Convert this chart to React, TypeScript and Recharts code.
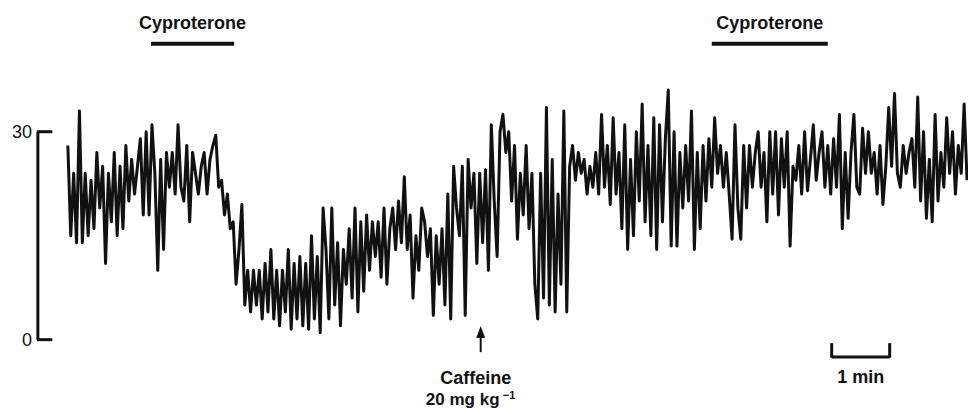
import { LineChart, Line, XAxis, YAxis, ReferenceLine, ReferenceDot } from 'recharts';

const sampleInterval = 3;
const traceValues = [
  // 0 – 129 s
  28, 15, 24, 14, 33, 14, 24, 15, 23, 16, 27, 19, 25, 11, 24, 17, 27, 15, 25, 16, 28, 20,
  26, 21, 25, 29, 18, 30, 18, 31, 24, 10, 26, 13, 27, 22, 27, 21, 31, 22, 20, 28, 17, 27,
  // 132 – 264 s
  24, 21, 25, 27, 21, 26, 28, 29.5, 22, 23, 18, 21, 16, 17, 8, 13, 19.5, 5, 10, 4, 10, 5,
  10, 3, 11, 4, 13, 3, 10, 2, 10, 4, 13, 1.5, 11, 3, 12, 2, 11, 1.5, 15, 3, 12, 1, 19,
  // 267 – 399 s
  13, 3, 19, 5, 14, 2, 13, 8, 16, 6, 19, 4, 17, 7, 18, 10, 17, 12, 17, 9, 19, 8, 16,
  19, 13, 20, 14, 23.5, 13, 18, 6, 15, 10, 19, 17, 12, 16, 3.5, 15, 8, 16, 5, 21, 3, 25,
  // 402 – 534 s
  19, 15, 25, 3.5, 26, 19, 24, 11, 24, 14, 24.5, 10, 31, 20, 12, 30, 32.5, 27, 30, 20, 28, 14.5,
  24, 18, 28, 16, 24, 8, 3, 24, 6, 33.5, 5, 26, 4, 21, 8, 33, 4, 25, 28, 23, 27, 24, 26,
  // 537 – 669 s
  21, 25, 22, 27, 21, 32.5, 22, 28, 19.5, 32, 21, 27, 16, 31, 13, 26, 15, 30, 20, 34, 17, 28,
  15, 32, 13, 31, 17, 29, 36, 13.5, 30, 13.5, 27, 19, 28, 20, 33, 13, 27, 16, 28, 20, 29, 22, 32,
  // 672 – 804 s
  24, 28, 22, 27, 21, 14.5, 31, 19, 14.5, 28, 19, 28, 22, 27, 30, 22, 27, 17, 30, 21, 30, 18,
  29, 22, 30, 13.5, 25, 23, 28, 21, 30, 21.5, 26, 31, 23, 27, 30, 22, 28, 21, 29, 22, 32.5, 16, 27,
  // 807 – 930 s
  17.5, 27, 32.5, 22, 21, 30.5, 24, 30, 24, 27, 21, 28, 19.5, 25, 33.5, 25, 35.5, 24, 22, 28, 24,
  27, 29, 22, 35, 20, 30, 17.5, 26, 17, 32.5, 20, 27, 22, 32, 24, 30, 21, 28, 24, 34, 23,
];

const yTicks = [0, 30];
const cyproteronePeriods = [
  [86, 172],
  [666, 786],
];
const caffeineTime = 427;
const scaleBarStart = 790;
const scaleBarLength = 60; // 1 min

const data = traceValues.map((v, i) => ({ t: i * sampleInterval, v }));

const INK = '#111';
const bracketX = -31;
const bracketCapX = -16;

function ArrowHead(props: any) {
  const { cx, cy } = props;
  return <polygon points={`${cx},${cy - 6} ${cx - 4.5},${cy + 6} ${cx + 4.5},${cy + 6}`} fill={INK} />;
}

function CaffeineLabel(props: any) {
  const { cx, cy } = props;
  return (
    <g fill={INK} fontWeight={700}>
      <text x={cx} y={cy - 4} textAnchor="middle" fontSize={18}>
        Caffeine
      </text>
      <text x={cx - 50} y={cy + 17} textAnchor="start" fontSize={17}>
        20 mg kg
      </text>
      <text x={cx + 27} y={cy + 11} textAnchor="start" fontSize={11}>
        −1
      </text>
    </g>
  );
}

function MinLabel(props: any) {
  const { cx, cy } = props;
  return (
    <text x={cx} y={cy} textAnchor="middle" fill={INK} fontSize={18} fontWeight={700}>
      1 min
    </text>
  );
}

export default function App() {
  return (
    <div style={{ position: 'absolute', left: 0, top: 0, background: '#fff', fontFamily: '"Liberation Sans", Arial, sans-serif' }}>
      <LineChart width={968} height={409} data={data} margin={{ top: 0, right: 0, bottom: 0, left: 0 }}>
        <XAxis type="number" dataKey="t" domain={[-35, 931]} allowDataOverflow hide />
        <YAxis
          type="number"
          domain={[-10, 49]}
          ticks={yTicks}
          width={34}
          axisLine={false}
          tickLine={false}
          tickSize={0}
          tickMargin={2}
          allowDataOverflow
          tick={{ fill: INK, fontSize: 18 }}
        />

        {/* y-scale bracket */}
        <ReferenceLine segment={[{ x: bracketX, y: 0 }, { x: bracketX, y: 30 }]} stroke={INK} strokeWidth={3} />
        <ReferenceLine segment={[{ x: bracketX - 1, y: 30 }, { x: bracketCapX, y: 30 }]} stroke={INK} strokeWidth={3} />
        <ReferenceLine segment={[{ x: bracketX - 1, y: 0 }, { x: bracketCapX, y: 0 }]} stroke={INK} strokeWidth={3} />

        {/* cyproterone infusion periods */}
        {cyproteronePeriods.map(([s, e], i) => (
          <ReferenceLine
            key={i}
            segment={[{ x: s, y: 42.7 }, { x: e, y: 42.7 }]}
            stroke={INK}
            strokeWidth={4}
            label={{ value: 'Cyproterone', position: 'top', offset: 15, fill: INK, fontSize: 18, fontWeight: 700 }}
          />
        ))}

        {/* caffeine injection */}
        <ReferenceLine segment={[{ x: caffeineTime, y: -1.8 }, { x: caffeineTime, y: 0.6 }]} stroke={INK} strokeWidth={2} />
        <ReferenceDot x={caffeineTime} y={1.1} r={0} shape={ArrowHead} />
        <ReferenceDot x={caffeineTime - 5} y={-7.0} r={0} shape={CaffeineLabel} />

        {/* time scale bar */}
        <ReferenceLine segment={[{ x: scaleBarStart, y: -0.5 }, { x: scaleBarStart, y: -2.6 }]} stroke={INK} strokeWidth={3} />
        <ReferenceLine segment={[{ x: scaleBarStart + scaleBarLength, y: -0.5 }, { x: scaleBarStart + scaleBarLength, y: -2.6 }]} stroke={INK} strokeWidth={3} />
        <ReferenceLine segment={[{ x: scaleBarStart, y: -2.5 }, { x: scaleBarStart + scaleBarLength, y: -2.5 }]} stroke={INK} strokeWidth={3} />
        <ReferenceDot x={scaleBarStart + scaleBarLength / 2} y={-6.3} r={0} shape={MinLabel} />

        <Line
          type="linear"
          dataKey="v"
          stroke={INK}
          strokeWidth={3}
          strokeLinejoin="round"
          dot={false}
          isAnimationActive={false}
        />
      </LineChart>
    </div>
  );
}
